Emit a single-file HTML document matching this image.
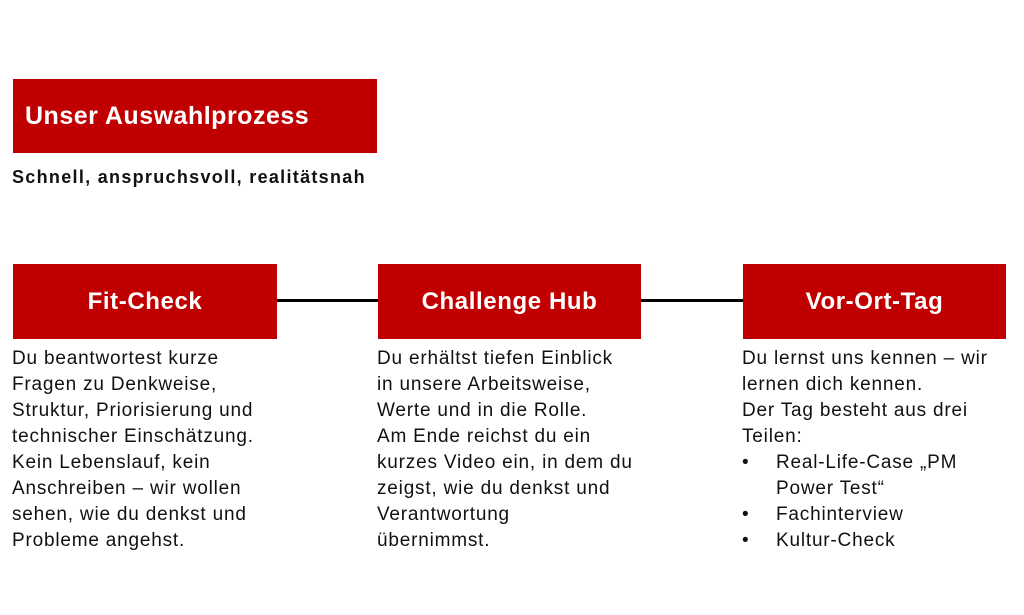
<!DOCTYPE html>
<html><head><meta charset="utf-8"><style>
body{margin:0;width:1024px;height:615px;background:#fff;position:relative;font-family:"Liberation Sans",sans-serif;overflow:hidden}
.b{position:absolute;background:#c00000;color:#fff;font-weight:bold;display:flex;align-items:center;justify-content:center;font-size:24px;letter-spacing:0.6px}
.t{position:absolute;font-size:19px;line-height:26px;color:#111;white-space:nowrap;letter-spacing:0.8px}
.l{position:absolute;height:3px;background:#000;top:299px}
.bl{position:relative;padding-left:34px}
.bl:before{content:"•";position:absolute;left:0}
</style></head><body>
<div class="b" style="left:13px;top:79px;width:364px;height:74px;justify-content:flex-start;padding-left:12px;box-sizing:border-box;font-size:25px;letter-spacing:0.5px">Unser Auswahlprozess</div>
<div class="t" style="left:12px;top:164px;font-weight:bold;font-size:18px;letter-spacing:1.3px">Schnell, anspruchsvoll, realitätsnah</div>
<div class="l" style="left:277px;width:101px"></div>
<div class="l" style="left:641px;width:102px"></div>
<div class="b" style="left:13px;top:264px;width:264px;height:75px">Fit-Check</div>
<div class="b" style="left:378px;top:264px;width:263px;height:75px">Challenge Hub</div>
<div class="b" style="left:743px;top:264px;width:263px;height:75px">Vor-Ort-Tag</div>
<div class="t" style="left:12px;top:346px">Du beantwortest kurze<br>Fragen zu Denkweise,<br>Struktur, Priorisierung und<br>technischer Einschätzung.<br>Kein Lebenslauf, kein<br>Anschreiben – wir wollen<br>sehen, wie du denkst und<br>Probleme angehst.</div>
<div class="t" style="left:377px;top:346px">Du erhältst tiefen Einblick<br>in unsere Arbeitsweise,<br>Werte und in die Rolle.<br>Am Ende reichst du ein<br>kurzes Video ein, in dem du<br>zeigst, wie du denkst und<br>Verantwortung<br>übernimmst.</div>
<div class="t" style="left:742px;top:346px">Du lernst uns kennen – wir<br>lernen dich kennen.<br>Der Tag besteht aus drei<br>Teilen:
<div class="bl">Real-Life-Case „PM<br>Power Test“</div><div class="bl">Fachinterview</div><div class="bl">Kultur-Check</div></div>
</body></html>
